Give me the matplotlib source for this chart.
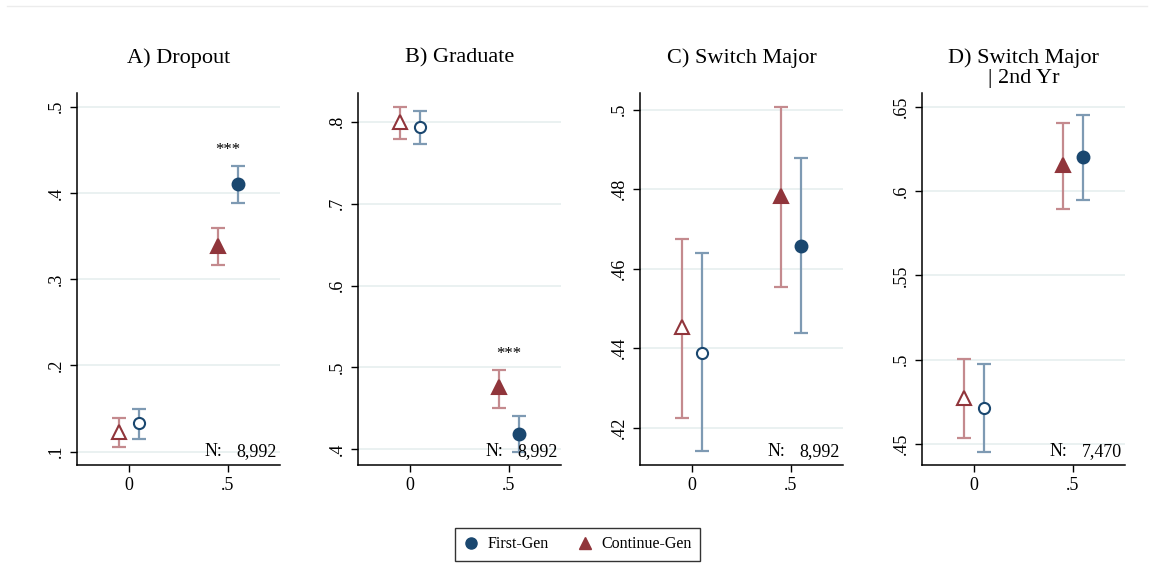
import matplotlib
matplotlib.use("Agg")
import matplotlib.pyplot as plt
from matplotlib.lines import Line2D

plt.rcParams['font.family'] = ['Liberation Serif', 'DejaVu Serif']

# ---- data ----
titles = ["A) Dropout", "B) Graduate", "C) Switch Major", "D) Switch Major\n| 2nd Yr"]
x_groups = [0.0, 0.5]
x_ticklabels = ["0", ".5"]

# First-Gen (blue): estimates and CI per panel, at x = 0 and 0.5
first_est = [[0.133, 0.410], [0.793, 0.419], [0.4389, 0.4658], [0.4716, 0.6205]]
first_lo = [[0.115, 0.388], [0.773, 0.397], [0.4140, 0.4438], [0.4454, 0.5950]]
first_hi = [[0.150, 0.431], [0.813, 0.441], [0.4639, 0.4879], [0.4975, 0.6453]]

# Continue-Gen (red)
cont_est = [[0.123, 0.338], [0.799, 0.476], [0.4452, 0.4782], [0.4775, 0.6153]]
cont_lo = [[0.106, 0.316], [0.779, 0.451], [0.4225, 0.4553], [0.4534, 0.5895]]
cont_hi = [[0.139, 0.359], [0.818, 0.497], [0.4675, 0.5008], [0.5003, 0.6405]]

# significance stars at x = 0.5 (empty = none)
stars = ["***", "***", "", ""]
n_obs = ["8,992", "8,992", "8,992", "7,470"]

y_ticks = [[0.1, 0.2, 0.3, 0.4, 0.5],
           [0.4, 0.5, 0.6, 0.7, 0.8],
           [0.42, 0.44, 0.46, 0.48, 0.5],
           [0.45, 0.5, 0.55, 0.6, 0.65]]
y_ticklabels = [[".1", ".2", ".3", ".4", ".5"],
                [".4", ".5", ".6", ".7", ".8"],
                [".42", ".44", ".46", ".48", ".5"],
                [".45", ".5", ".55", ".6", ".65"]]
y_lims = [(0.0846, 0.516), (0.381, 0.835), (0.4106, 0.5042), (0.4375, 0.6583)]

# ---- style ----
BLUE = "#1a476f"
RED = "#90353b"
BLUE_CI = "#7e9ab3"
RED_CI = "#c48a8e"
GRID = "#e8f0f0"
offset = 0.05

W, H = 1154, 579
fig = plt.figure(figsize=(W / 100, H / 100), dpi=100)
fig.patch.set_facecolor("white")

# faint outer frame line at top
fig.add_artist(Line2D([7 / W, 1147 / W], [1 - 5.5 / H, 1 - 5.5 / H], color="#ececec", lw=1.0))

lefts = [77, 358, 640, 922]
ax_w = 203
ax_top, ax_bot = 93, 465

for i in range(4):
    ax = fig.add_axes([lefts[i] / W, 1 - ax_bot / H, ax_w / W, (ax_bot - ax_top) / H])
    ax.set_xlim(-0.262, 0.764)
    ax.set_ylim(*y_lims[i])
    ax.set_yticks(y_ticks[i])
    ax.set_yticklabels(y_ticklabels[i], rotation=90, va="center", fontsize=13)
    ax.set_xticks(x_groups)
    ax.set_xticklabels(x_ticklabels, fontsize=13)
    for t in y_ticks[i]:
        ax.axhline(t, color=GRID, lw=1.3, zorder=0)
    for s in ["top", "right"]:
        ax.spines[s].set_visible(False)
    for s in ["left", "bottom"]:
        ax.spines[s].set_linewidth(1.1)
    ax.tick_params(axis="both", direction="out", length=5, width=1.0, pad=4)

    for j, xg in enumerate(x_groups):
        filled = j == 1
        # continue-gen
        xc = xg - offset
        ax.errorbar([xc], [cont_est[i][j]],
                    yerr=[[cont_est[i][j] - cont_lo[i][j]], [cont_hi[i][j] - cont_est[i][j]]],
                    fmt="none", ecolor=RED_CI, elinewidth=1.6, capsize=5, capthick=1.6, zorder=2)
        ax.plot([xc], [cont_est[i][j]], marker="^", ms=9.5, mew=1.5,
                mfc=RED if filled else "white", mec=RED, ls="none", zorder=3)
        # first-gen
        xf = xg + offset
        ax.errorbar([xf], [first_est[i][j]],
                    yerr=[[first_est[i][j] - first_lo[i][j]], [first_hi[i][j] - first_est[i][j]]],
                    fmt="none", ecolor=BLUE_CI, elinewidth=1.6, capsize=5, capthick=1.6, zorder=2)
        ax.plot([xf], [first_est[i][j]], marker="o", ms=8.5 if filled else 8, mew=1.5,
                mfc=BLUE if filled else "white", mec=BLUE, ls="none", zorder=3)

    if stars[i]:
        top = max(first_hi[i][1], cont_hi[i][1])
        ax.annotate(stars[i], (0.5, top), xytext=(0, 6), textcoords="offset points",
                    ha="center", va="bottom", fontsize=12)

    ax.text(0.63, 0.035, "N:", transform=ax.transAxes, ha="left", va="center", fontsize=13)
    ax.text(0.985, 0.035, n_obs[i], transform=ax.transAxes, ha="right", va="center", fontsize=13)

    ax.text(0.5, 1.121, titles[i], transform=ax.transAxes, ha="center", va="top",
            fontsize=16, linespacing=1.12)

handles = [Line2D([], [], marker="o", color=BLUE, ls="none", ms=8),
           Line2D([], [], marker="^", color=RED, ls="none", ms=9)]
leg = fig.legend(handles, ["First-Gen", "Continue-Gen"], loc="center",
                 bbox_to_anchor=(0.5004, 0.0596), ncol=2, frameon=True, fancybox=False,
                 fontsize=11.5, handletextpad=0.5, columnspacing=1.8, borderpad=0.55,
                 borderaxespad=0, handlelength=1.0)
leg.get_frame().set_edgecolor("black")
leg.get_frame().set_linewidth(1.0)

fig.savefig("out.png", dpi=100, facecolor="white")
